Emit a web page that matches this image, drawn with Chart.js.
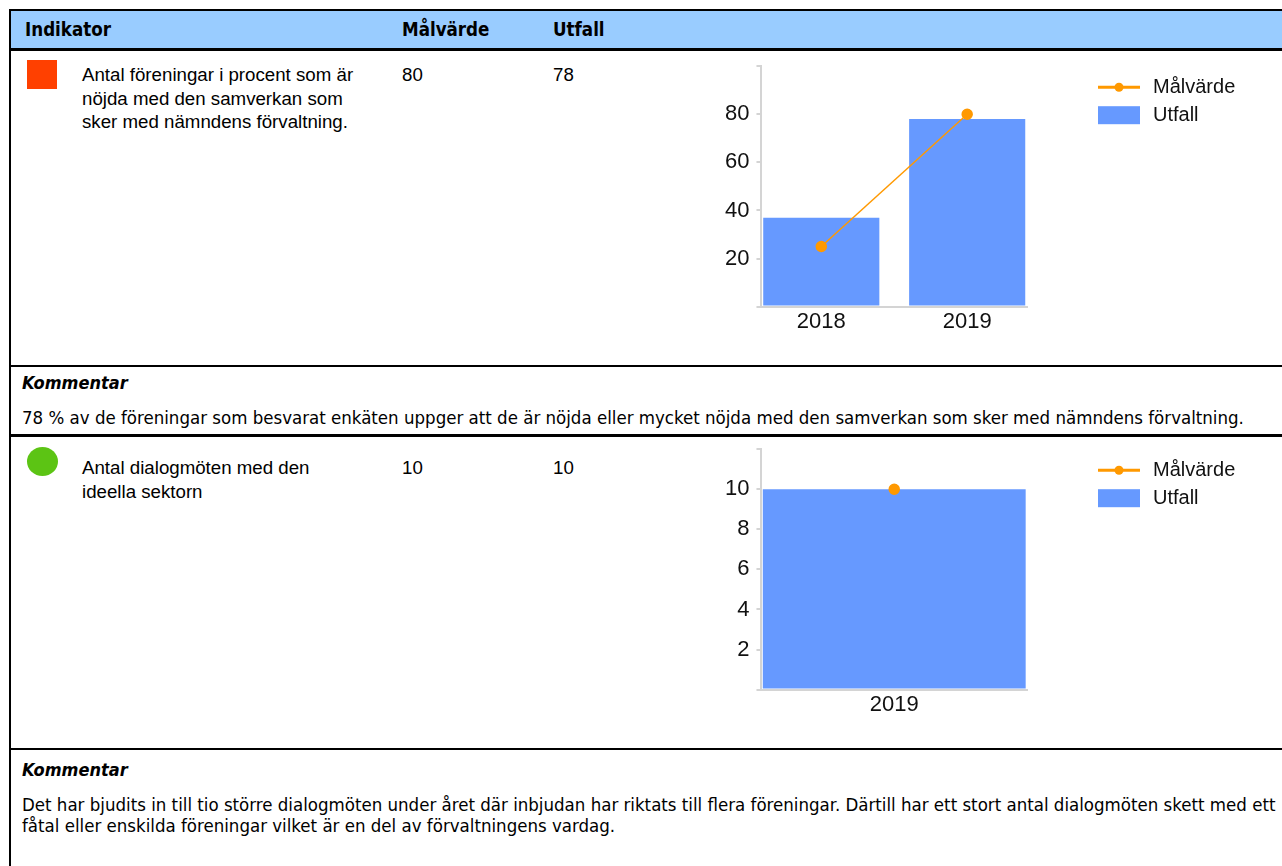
<!DOCTYPE html>
<html>
<head>
<meta charset="utf-8">
<title>Indikatorer</title>
<style>
    body { margin: 0; background: #fff; }
    #page { position: relative; width: 1282px; height: 866px; overflow: hidden; color: #000;
            font-family: "Liberation Sans", Arial, sans-serif; }
    .ln { position: absolute; background: #000; }
    .head { position: absolute; left: 11px; top: 11px; width: 1271px; height: 37px; background: #99ccff; }
    .hd { position: absolute; top: 11px; height: 37px; line-height: 37px; font-size: 18.6px; font-weight: bold;
          font-family: "DejaVu Sans Condensed", "DejaVu Sans", sans-serif; font-stretch: condensed; }
    .txt { position: absolute; font-size: 18.7px; line-height: 23.5px; }
    .kom { position: absolute; left: 22px; font-size: 18px; line-height: 21px; font-weight: bold; font-style: italic;
           font-family: "DejaVu Sans Condensed", "DejaVu Sans", sans-serif; font-stretch: condensed; }
    .ctext { position: absolute; left: 22px; font-size: 18.5px; line-height: 21px; white-space: nowrap;
             font-family: "DejaVu Sans Condensed", "DejaVu Sans", sans-serif; font-stretch: condensed; }
    .sym { position: absolute; left: 27px; width: 30px; height: 29px; }
    .chartbox { position: absolute; left: 700px; width: 582px; height: 319px; }
</style>
</head>
<body>
<div id="page">
    <div class="head"></div>
    <div class="ln" style="left:9px;top:9px;width:1273px;height:2px"></div>
    <div class="ln" style="left:9px;top:9px;width:2px;height:857px"></div>
    <div class="ln" style="left:9px;top:48px;width:1273px;height:3px"></div>
    <div class="ln" style="left:9px;top:365px;width:1273px;height:2px"></div>
    <div class="ln" style="left:9px;top:434px;width:1273px;height:3px"></div>
    <div class="ln" style="left:9px;top:748px;width:1273px;height:2px"></div>

    <div class="hd" style="left:25px">Indikator</div>
    <div class="hd" style="left:402px">Målvärde</div>
    <div class="hd" style="left:553px">Utfall</div>

    <!-- rad 1 -->
    <div class="sym" style="top:60px;background:#ff4000"></div>
    <div class="txt" style="left:82px;top:63px">Antal föreningar i procent som är<br>nöjda med den samverkan som<br>sker med nämndens förvaltning.</div>
    <div class="txt" style="left:402px;top:63px">80</div>
    <div class="txt" style="left:553px;top:63px">78</div>
    <div class="chartbox" style="top:46px"><canvas id="chart1"></canvas></div>

    <div class="kom" style="top:372px">Kommentar</div>
    <div class="ctext" style="top:407px">78 % av de föreningar som besvarat enkäten uppger att de är nöjda eller mycket nöjda med den samverkan som sker med nämndens förvaltning.</div>

    <!-- rad 2 -->
    <div class="sym" style="top:447px;background:#5cc414;border-radius:50%;width:31px"></div>
    <div class="txt" style="left:82px;top:456px">Antal dialogmöten med den<br>ideella sektorn</div>
    <div class="txt" style="left:402px;top:456px">10</div>
    <div class="txt" style="left:553px;top:456px">10</div>
    <div class="chartbox" style="top:429px"><canvas id="chart2"></canvas></div>

    <div class="kom" style="top:759px">Kommentar</div>
    <div class="ctext" style="top:794px">Det har bjudits in till tio större dialogmöten under året där inbjudan har riktats till flera föreningar. Därtill har ett stort antal dialogmöten skett med ett<br>fåtal eller enskilda föreningar vilket är en del av förvaltningens vardag.</div>
</div>

<script src="https://cdn.jsdelivr.net/npm/chart.js"></script>
<script>
    // indikator 1
    const years1 = ['2018', '2019'];
    const malvarde1 = [25, 80];
    const utfall1 = [37, 78];
    const yTicks1 = [20, 40, 60, 80];

    // indikator 2
    const years2 = ['2019'];
    const malvarde2 = [10];
    const utfall2 = [10];
    const yTicks2 = [2, 4, 6, 8, 10];

    const orange = '#ff9900';
    const blue = '#6699ff';
    const axisGray = '#d4d4d4';
    const textColor = '#111';

    // legend to the right of the plot, line+dot for Målvärde, block for Utfall
    const sideLegend = {
        id: 'sideLegend',
        afterDraw(chart) {
            const ctx = chart.ctx;
            const x = chart.chartArea.right + 71;
            let y = chart.chartArea.top + 21;
            ctx.save();
            ctx.font = '20px "Liberation Sans", Arial, sans-serif';
            ctx.textBaseline = 'middle';
            chart.data.datasets.forEach(ds => {
                if (ds.type === 'line') {
                    ctx.strokeStyle = ds.borderColor;
                    ctx.lineWidth = 3;
                    ctx.beginPath();
                    ctx.moveTo(x, y);
                    ctx.lineTo(x + 42, y);
                    ctx.stroke();
                    ctx.fillStyle = ds.pointBackgroundColor;
                    ctx.beginPath();
                    ctx.arc(x + 21, y, 4.5, 0, Math.PI * 2);
                    ctx.fill();
                } else {
                    ctx.fillStyle = ds.backgroundColor;
                    ctx.fillRect(x, y - 9, 42, 18);
                }
                ctx.fillStyle = textColor;
                ctx.fillText(ds.label, x + 55, y);
                y += 28;
            });
            ctx.restore();
        }
    };

    // x is a linear index axis so the outer bars can sit close to the axis ends
    function indicatorChart(id, labels, target, outcome, xPad, yMax, yStep, shownTicks, barPct) {
        const pts = vals => vals.map((v, i) => ({ x: i, y: v }));
        new Chart(document.getElementById(id), {
            data: {
                datasets: [
                    { type: 'line', label: 'Målvärde', data: pts(target), borderColor: orange, backgroundColor: orange,
                      pointBackgroundColor: orange, pointBorderColor: orange, borderWidth: 1.5, pointRadius: 5, order: 0 },
                    { type: 'bar', label: 'Utfall', data: pts(outcome), backgroundColor: blue,
                      barPercentage: barPct, categoryPercentage: 1, order: 1 }
                ]
            },
            options: {
                responsive: true,
                maintainAspectRatio: false,
                animation: false,
                layout: { padding: { left: 18, right: 255, top: 1, bottom: 28 } },
                plugins: { legend: { display: false }, tooltip: { enabled: false } },
                scales: {
                    x: {
                        type: 'linear',
                        offset: false,
                        min: -xPad,
                        max: labels.length - 1 + xPad,
                        afterBuildTicks: s => { s.ticks = labels.map((_, i) => ({ value: i })); },
                        grid: { display: false, drawTicks: false, offset: false },
                        border: { color: axisGray, width: 2 },
                        ticks: { font: { size: 22 }, color: textColor, padding: 2,
                                 callback: v => labels[v] ?? '' }
                    },
                    y: {
                        min: 0,
                        max: yMax,
                        ticks: { stepSize: yStep, font: { size: 22 }, color: textColor, padding: 7,
                                 callback: v => shownTicks.includes(v) ? String(v) : '' },
                        grid: { drawOnChartArea: false, tickLength: 5, color: axisGray, lineWidth: 2 },
                        border: { color: axisGray, width: 2 }
                    }
                }
            },
            plugins: [sideLegend]
        });
    }

    Chart.defaults.font.family = '"Liberation Sans", Arial, sans-serif';
    indicatorChart('chart1', years1, malvarde1, utfall1, 0.41, 100, 20, yTicks1, 0.796);
    indicatorChart('chart2', years2, malvarde2, utfall2, 0.5, 12, 2, yTicks2, 0.99);
</script>
</body>
</html>
